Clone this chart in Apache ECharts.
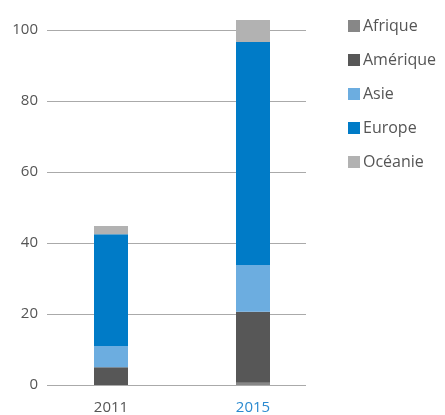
<!DOCTYPE html>
<html>
<head>
<meta charset="utf-8">
<script src="https://cdn.jsdelivr.net/npm/echarts@6/dist/echarts.min.js"></script>
<style>
  html, body { margin: 0; padding: 0; background: #fff; }
  #chart { width: 445px; height: 415px; }
</style>
</head>
<body>
<div id="chart"></div>
<script>
const years = ['2011', '2015']
const regions = ['Afrique', 'Amérique', 'Asie', 'Europe', 'Océanie']
const afrique = [0, 0.6]
const amerique = [5, 20]
const asie = [6, 13.2]
const europe = [31.5, 62.8]
const oceanie = [2.3, 6.2]
const yTicks = [0, 20, 40, 60, 80, 100]

const colors = ['#878787', '#575757', '#6cade0', '#007bc7', '#b2b2b2']
const values = [afrique, amerique, asie, europe, oceanie]
const font = '"Open Sans", Lato, sans-serif'

const myChart = echarts.init(document.getElementById('chart'))
const option = {
  animation: false,
  legend: {
    orient: 'vertical',
    left: 343,
    top: 13,
    itemWidth: 12,
    itemHeight: 12,
    itemGap: 18,
    icon: 'rect',
    textStyle: { fontFamily: font, fontSize: 16, color: '#555', padding: [0, 0, 0, -2] },
    data: regions
  },
  grid: [
    // grid for the gridlines and y labels
    { left: 47, width: 259, top: 30, bottom: 30 },
    // grid for the bars and x labels
    { left: 40, width: 284, top: 30, bottom: 30 }
  ],
  xAxis: [
    { type: 'category', gridIndex: 0, data: years, show: false },
    {
      type: 'category',
      gridIndex: 1,
      data: years.map((y, i) => i === 1 ? { value: y, textStyle: { color: '#2a8ad0' } } : y),
      axisLine: { show: false },
      axisTick: { show: false },
      axisLabel: { fontFamily: font, fontSize: 15, color: '#555', margin: 15 }
    }
  ],
  yAxis: [
    {
      type: 'value',
      gridIndex: 0,
      min: yTicks[0],
      max: yTicks[yTicks.length - 1],
      interval: 20,
      axisLine: { show: false },
      axisTick: { show: false },
      axisLabel: { fontFamily: font, fontSize: 15, color: '#555', margin: 9 },
      splitLine: { lineStyle: { color: '#aaa', width: 1 } }
    },
    {
      type: 'value',
      gridIndex: 1,
      min: yTicks[0],
      max: yTicks[yTicks.length - 1],
      show: false,
      splitLine: { show: false }
    }
  ],
  series: regions.map((name, i) => ({
    name,
    type: 'bar',
    stack: 'total',
    xAxisIndex: 1,
    yAxisIndex: 1,
    barWidth: 34,
    clip: false,
    color: colors[i],
    data: values[i]
  }))
}
myChart.setOption(option)
</script>
</body>
</html>
